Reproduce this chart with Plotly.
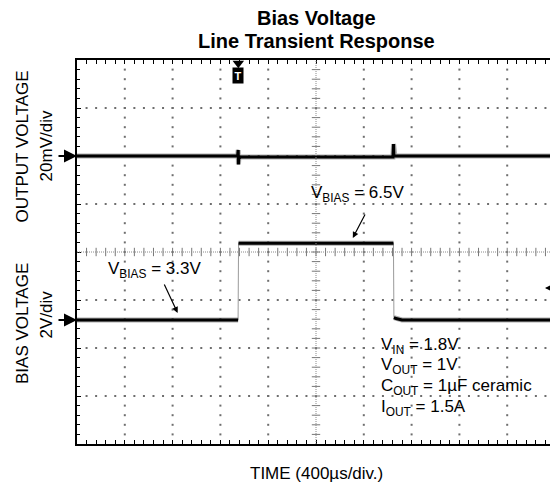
import numpy as np
import plotly.graph_objects as go

# scope capture, time in us (400us/div, 10 div)
t_out = [0, 1344, 1349, 1351, 1354, 1370, 2644, 2649, 2652, 2660, 4000]
v_out_mv = [0, 0, 2.5, -3.5, -1, -0.4, -0.4, 5, 0, 0, 0]      # deviation, 20mV/div

t_bias = [0, 1348, 1352, 1365, 2648, 2652, 2670, 2720, 4000]
v_bias = [3.3, 3.3, 6.5, 6.5, 6.5, 3.4, 3.36, 3.3, 3.3]   # 2V/div

trig_t = 1350

INK = "#000000"
FUZZ = "rgba(70,70,70,0.45)"
DOT = "#6e6e6e"
FONT = "Liberation Sans, Arial, sans-serif"

fig = go.Figure()

# graticule dots (x in us, y in divisions)
maj_x = np.arange(400, 4000, 400)
min_x = np.arange(80, 4000, 80)
maj_y = np.arange(-3, 4, 1)
min_y = np.round(np.arange(-3.8, 4.0, 0.2), 2)
gx, gy = [], []
for x in maj_x:
    if x == 2000:
        continue
    gx += [x] * len(min_y)
    gy += list(min_y)
for y in maj_y:
    if y == 0:
        continue
    gx += list(min_x)
    gy += [y] * len(min_x)
fig.add_trace(go.Scatter(x=gx, y=gy, mode="markers", hoverinfo="skip",
                         marker=dict(symbol="square", size=2, color=DOT), showlegend=False))

# center cross
fig.add_shape(type="line", x0=0, x1=4000, y0=0, y1=0, xref="x", yref="y",
              line=dict(color="#8a8a8a", width=1, dash="1px,1px"))
fig.add_shape(type="line", x0=2000, x1=2000, y0=-4, y1=4, xref="x", yref="y",
              line=dict(color="#8a8a8a", width=1, dash="1px,1px"))
fig.add_trace(go.Scatter(x=list(min_x), y=[0] * len(min_x), mode="markers", hoverinfo="skip",
                         marker=dict(symbol="line-ns", size=6, line=dict(width=1, color="#777")),
                         showlegend=False))
fig.add_trace(go.Scatter(x=[2000] * len(min_y), y=list(min_y), mode="markers", hoverinfo="skip",
                         marker=dict(symbol="line-ew", size=6, line=dict(width=1, color="#777")),
                         showlegend=False))

# output voltage trace
fig.add_trace(go.Scatter(x=t_out, y=v_out_mv, yaxis="y3", mode="lines",
                         line=dict(color=FUZZ, width=5), showlegend=False))
fig.add_trace(go.Scatter(x=t_out, y=v_out_mv, yaxis="y3", mode="lines",
                         line=dict(color=INK, width=3), showlegend=False))

# bias voltage trace: thin edges, thick flat parts
fig.add_trace(go.Scatter(x=t_bias, y=v_bias, yaxis="y2", mode="lines",
                         line=dict(color="#9a9a9a", width=1), showlegend=False))
for a, b in [(0, 2), (2, 5), (5, 9)]:
    fig.add_trace(go.Scatter(x=t_bias[a:b], y=v_bias[a:b], yaxis="y2", mode="lines",
                             line=dict(color=FUZZ, width=5), showlegend=False))
    fig.add_trace(go.Scatter(x=t_bias[a:b], y=v_bias[a:b], yaxis="y2", mode="lines",
                             line=dict(color=INK, width=3), showlegend=False))

# trigger marker
fig.add_trace(go.Scatter(x=[trig_t], y=[3.93], mode="markers", cliponaxis=False, hoverinfo="skip",
                         marker=dict(symbol="triangle-down", size=10, color=INK), showlegend=False))
fig.add_annotation(x=trig_t, y=3.68, xref="x", yref="y", text="<b>T</b>", showarrow=False,
                   font=dict(family=FONT, size=11, color="white"), bgcolor=INK, borderpad=1.5)

ann = dict(font=dict(family=FONT, size=17, color=INK), showarrow=False,
           xanchor="center", yanchor="middle")

# title
fig.add_annotation(x=0.5, y=1, xref="paper", yref="paper", yshift=42, text="<b>Bias Voltage</b>",
                   font=dict(family=FONT, size=20, color=INK), showarrow=False, yanchor="middle")
fig.add_annotation(x=0.5, y=1, xref="paper", yref="paper", yshift=19, text="<b>Line Transient Response</b>",
                   font=dict(family=FONT, size=20, color=INK), showarrow=False, yanchor="middle")

# channel labels
fig.add_annotation(x=0, y=2.2, xref="paper", yref="y", xshift=-55, text="OUTPUT VOLTAGE",
                   textangle=-90, **ann)
fig.add_annotation(x=0, y=2.2, xref="paper", yref="y", xshift=-31, text="20mV/div",
                   textangle=-90, **ann)
fig.add_annotation(x=0, y=-1.5, xref="paper", yref="y", xshift=-55, text="BIAS VOLTAGE",
                   textangle=-90, **ann)
fig.add_annotation(x=0, y=-1.3, xref="paper", yref="y", xshift=-31, text="2V/div",
                   textangle=-90, **ann)
fig.add_annotation(x=0.5, y=0, xref="paper", yref="paper", yshift=-29,
                   text="TIME (400\u00b5s/div.)", **ann)

# ground reference arrows
for yv, yr in [(0, "y3"), (3.3, "y2")]:
    fig.add_annotation(x=0, y=yv, xref="paper", yref=yr, ax=-20, ay=0, text="",
                       showarrow=True, arrowhead=2, arrowsize=1.3, arrowwidth=2, arrowcolor=INK)
# trigger level arrow
fig.add_annotation(x=0.979, y=4.63, xref="paper", yref="y2", ax=10, ay=0, text="",
                   showarrow=True, arrowhead=2, arrowsize=1, arrowwidth=1.2, arrowcolor=INK)

# level callouts
fig.add_annotation(x=2350, y=8.55, xref="x", yref="y2", text="V<sub>BIAS</sub> = 6.5V", **ann)
fig.add_annotation(x=2308, y=6.72, xref="x", yref="y2", ax=13, ay=-25, text="", showarrow=True,
                   arrowhead=2, arrowsize=1, arrowwidth=1.2, arrowcolor=INK)
fig.add_annotation(x=650, y=5.38, xref="x", yref="y2", text="V<sub>BIAS</sub> = 3.3V", **ann)
fig.add_annotation(x=842, y=3.59, xref="x", yref="y2", ax=-14, ay=-30, text="", showarrow=True,
                   arrowhead=2, arrowsize=1, arrowwidth=1.2, arrowcolor=INK)

# test conditions
cond = ["V<sub>IN</sub> = 1.8V", "V<sub>OUT</sub> = 1V",
        "C<sub>OUT</sub> = 1\u00b5F ceramic", "I<sub>OUT</sub> = 1.5A"]
for i, s in enumerate(cond):
    fig.add_annotation(x=2525, y=-1.95 - 0.43 * i, xref="x", yref="y", text=s,
                       font=dict(family=FONT, size=17, color=INK), showarrow=False,
                       xanchor="left", yanchor="middle")

axis_common = dict(showline=True, linecolor=INK, linewidth=2, mirror="allticks",
                   ticks="inside", ticklen=4, tickcolor=INK, showticklabels=False,
                   showgrid=False, zeroline=False)
# page body has an 8px margin, so the figure is 8px smaller than the window
fig.update_layout(
    width=550, height=480,
    margin=dict(l=69, r=1, t=52, b=44),
    paper_bgcolor="white", plot_bgcolor="white",
    xaxis=dict(range=[0, 4000], dtick=400,
               minor=dict(dtick=80, ticks="inside", ticklen=3, tickcolor=INK), **axis_common),
    yaxis=dict(range=[-4, 4], dtick=1,
               minor=dict(dtick=0.2, ticks="inside", ticklen=3, tickcolor=INK), **axis_common),
    yaxis2=dict(range=[-1.867, 14.133], overlaying="y", visible=False),
    yaxis3=dict(range=[-120, 40], overlaying="y", visible=False),
)

fig.write_html("out.html")
